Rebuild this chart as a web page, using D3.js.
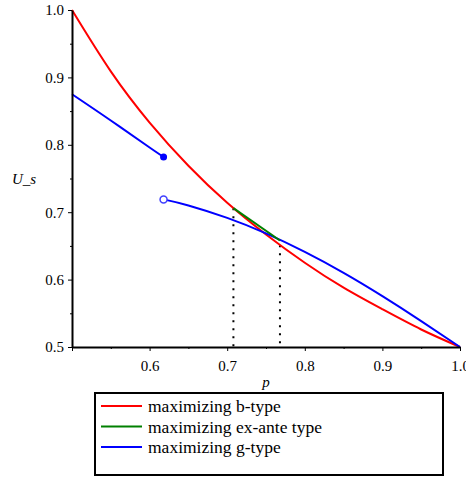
<html>
<script src="https://d3js.org/d3.v7.min.js"></script>
<style>
body {margin: 0; background: white;}
</style>
<body>
<svg id="chart" width="466" height="479" font-family="Liberation Serif"></svg>
<script>
// values
var bType_p = [0.5, 0.55, 0.6, 0.65, 0.7, 0.75, 0.8, 0.85, 0.9, 0.95, 1.0]
var bType_u = [1.0, 0.909, 0.833, 0.769, 0.714, 0.667, 0.625, 0.588, 0.556, 0.526, 0.5]

var gTypeA_p = [0.5, 0.55, 0.6, 0.618]
var gTypeA_u = [0.875, 0.836, 0.796, 0.782]

var gTypeB_p = [0.618, 0.65, 0.7, 0.75, 0.8, 0.85, 0.9, 0.95, 1.0]
var gTypeB_u = [0.719, 0.710, 0.6915, 0.6685, 0.641, 0.610, 0.5755, 0.5385, 0.5]

var exAnte_p = [0.708, 0.768]
var exAnte_u = [0.706, 0.658]

var dotted_p = [0.708, 0.768]
var dotted_top = [0.706, 0.651]

var xTicks = [0.5, 0.6, 0.7, 0.8, 0.9, 1.0]
var xMinor = [0.55, 0.65, 0.75, 0.85, 0.95]
var yTicks = [0.5, 0.6, 0.7, 0.8, 0.9, 1.0]
var yMinor = [0.55, 0.65, 0.75, 0.85, 0.95]

var legendNames = ['maximizing b-type', 'maximizing ex-ante type', 'maximizing g-type']
var legendColors = ['#ff0000', '#008000', '#0000ff']

var serif = "Liberation Serif"
var svg = d3.select("#chart")

var x = d3.scaleLinear().domain([0.5, 1.0]).range([72, 460])
var y = d3.scaleLinear().domain([0.5, 1.0]).range([347, 10])

function pts(ps, us) {
  return ps.map(function(p, i) { return [p, us[i]] })
}

var line = d3.line()
  .x(function(d) { return x(d[0]) })
  .y(function(d) { return y(d[1]) })
  .curve(d3.curveNatural)

// dotted guides
svg.selectAll(".guide")
  .data(dotted_p)
  .enter()
  .append("line")
  .attr("x1", function(d) { return x(d) })
  .attr("x2", function(d) { return x(d) })
  .attr("y1", function(d, i) { return y(dotted_top[i]) })
  .attr("y2", y(0.5))
  .attr("stroke", "black")
  .attr("stroke-width", 2)
  .attr("stroke-dasharray", "2,6")

svg.append("path").datum(pts(bType_p, bType_u))
  .attr("d", line).attr("fill", "none").attr("stroke", legendColors[0]).attr("stroke-width", 2)

svg.append("path").datum(pts(gTypeA_p, gTypeA_u))
  .attr("d", line).attr("fill", "none").attr("stroke", legendColors[2]).attr("stroke-width", 2)

svg.append("path").datum(pts(gTypeB_p, gTypeB_u))
  .attr("d", line).attr("fill", "none").attr("stroke", legendColors[2]).attr("stroke-width", 2)

svg.append("path").datum(pts(exAnte_p, exAnte_u))
  .attr("d", line).attr("fill", "none").attr("stroke", legendColors[1]).attr("stroke-width", 2)

// end points of the g-type jump
svg.append("circle")
  .attr("cx", x(gTypeA_p[gTypeA_p.length - 1]))
  .attr("cy", y(gTypeA_u[gTypeA_u.length - 1]))
  .attr("r", 3.5)
  .attr("fill", legendColors[2])

svg.append("circle")
  .attr("cx", x(gTypeB_p[0]))
  .attr("cy", y(gTypeB_u[0]))
  .attr("r", 3.5)
  .attr("fill", "white")
  .attr("stroke", "#4040ff")
  .attr("stroke-width", 1.5)

// axes
var yAxis = svg.append("g")
  .attr("transform", "translate(" + x(0.5) + ",0)")
  .call(d3.axisLeft(y).tickValues(yTicks).tickSize(4).tickSizeOuter(0).tickPadding(4).tickFormat(d3.format(".1f")))
yAxis.attr("font-family", serif).attr("font-size", 15)
yAxis.select(".domain").attr("stroke-width", 2)
yAxis.selectAll("text").attr("fill", "black")

svg.append("g")
  .attr("transform", "translate(" + x(0.5) + ",0)")
  .call(d3.axisLeft(y).tickValues(yMinor).tickSize(2).tickFormat(""))
  .select(".domain").remove()

var xAxis = svg.append("g")
  .attr("transform", "translate(0," + y(0.5) + ")")
  .call(d3.axisBottom(x).tickValues(xTicks).tickSize(4).tickSizeOuter(0).tickPadding(9)
    .tickFormat(function(d) { return d == 0.5 ? "" : d3.format(".1f")(d) }))
xAxis.attr("font-family", serif).attr("font-size", 15)
xAxis.select(".domain").attr("stroke-width", 2)
xAxis.selectAll("text").attr("fill", "black")

svg.append("g")
  .attr("transform", "translate(0," + y(0.5) + ")")
  .call(d3.axisBottom(x).tickValues(xMinor).tickSize(2).tickFormat(""))
  .select(".domain").remove()

// axis titles
svg.append("text")
  .attr("x", 24)
  .attr("y", y(0.75) + 5)
  .attr("text-anchor", "middle")
  .attr("font-family", serif)
  .attr("font-style", "italic")
  .attr("font-size", 15)
  .text("U_s")

svg.append("text")
  .attr("x", (x(0.5) + x(1.0)) / 2)
  .attr("y", 387)
  .attr("text-anchor", "middle")
  .attr("font-family", serif)
  .attr("font-style", "italic")
  .attr("font-size", 15)
  .text("p")

// legend
svg.append("rect")
  .attr("x", 95).attr("y", 393)
  .attr("width", 348).attr("height", 82)
  .attr("fill", "white")
  .attr("stroke", "black")
  .attr("stroke-width", 2)

var leg = svg.selectAll(".leg")
  .data(legendNames)
  .enter()
  .append("g")
  .attr("transform", function(d, i) { return "translate(0," + (406 + i * 20.5) + ")" })

leg.append("line")
  .attr("x1", 101).attr("x2", 142)
  .attr("y1", 0).attr("y2", 0)
  .attr("stroke", function(d, i) { return legendColors[i] })
  .attr("stroke-width", 2)

leg.append("text")
  .attr("x", 148)
  .attr("y", 6)
  .attr("font-family", serif)
  .attr("font-size", 17.5)
  .text(function(d) { return d })
</script>
</body>
</html>
